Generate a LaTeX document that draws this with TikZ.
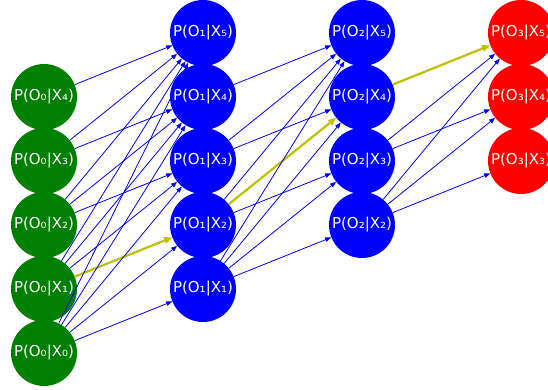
\documentclass[tikz,border=0pt]{standalone}
\usepackage{fontspec}
\setmainfont{DejaVu Sans}
\usetikzlibrary{arrows.meta}
\definecolor{mplgreen}{RGB}{0,128,0}
\definecolor{mplblue}{RGB}{0,0,255}
\definecolor{mplred}{RGB}{255,0,0}
\definecolor{mplyellow}{RGB}{191,191,0}
\tikzset{
  state/.style={circle, minimum size=66pt, inner sep=0pt, text=white,
    font=\fontsize{15}{18}\selectfont},
  obs0/.style={state, fill=mplgreen},
  obs1/.style={state, fill=mplblue},
  obs3/.style={state, fill=mplred},
  edge/.style={draw=mplblue, line width=0.8pt,
    -{Triangle[length=6pt,width=4.5pt]}},
  path/.style={draw=mplyellow, line width=2.2pt,
    -{Triangle[length=8pt,width=6.5pt]}}
}
\begin{document}
\begin{tikzpicture}[x=1pt,y=-1pt]
\useasboundingbox (0,0) rectangle (548,390);
\clip (0,0) rectangle (548,390);
% layer 0
\node[obs0] (n04) at (44,97)  {P(O₀|X₄)};
\node[obs0] (n03) at (44,161) {P(O₀|X₃)};
\node[obs0] (n02) at (44,225) {P(O₀|X₂)};
\node[obs0] (n01) at (44,289) {P(O₀|X₁)};
\node[obs0] (n00) at (44,353) {P(O₀|X₀)};
% layer 1
\node[obs1] (n15) at (203,33)  {P(O₁|X₅)};
\node[obs1] (n14) at (203,97)  {P(O₁|X₄)};
\node[obs1] (n13) at (203,161) {P(O₁|X₃)};
\node[obs1] (n12) at (203,225) {P(O₁|X₂)};
\node[obs1] (n11) at (203,289) {P(O₁|X₁)};
% layer 2
\node[obs1] (n25) at (362,33)  {P(O₂|X₅)};
\node[obs1] (n24) at (362,97)  {P(O₂|X₄)};
\node[obs1] (n23) at (362,161) {P(O₂|X₃)};
\node[obs1] (n22) at (362,225) {P(O₂|X₂)};
% layer 3
\node[obs3] (n35) at (521,33)  {P(O₃|X₅)};
\node[obs3] (n34) at (521,97)  {P(O₃|X₄)};
\node[obs3] (n33) at (521,161) {P(O₃|X₃)};
% most likely path
\foreach \a/\b in {n01/n12, n12/n24, n24/n35}
  \draw[path] (\a) -- (\b);
% remaining transitions
\foreach \a/\b in {n04/n15, n03/n14, n03/n15, n02/n13, n02/n14, n02/n15,
    n01/n13, n01/n14, n01/n15, n00/n11, n00/n12, n00/n13, n00/n14, n00/n15,
    n14/n25, n13/n24, n13/n25, n12/n23, n12/n25,
    n11/n22, n11/n23, n11/n24, n11/n25,
    n23/n34, n23/n35, n22/n33, n22/n34, n22/n35}
  \draw[edge] (\a) -- (\b);
\end{tikzpicture}
\end{document}
